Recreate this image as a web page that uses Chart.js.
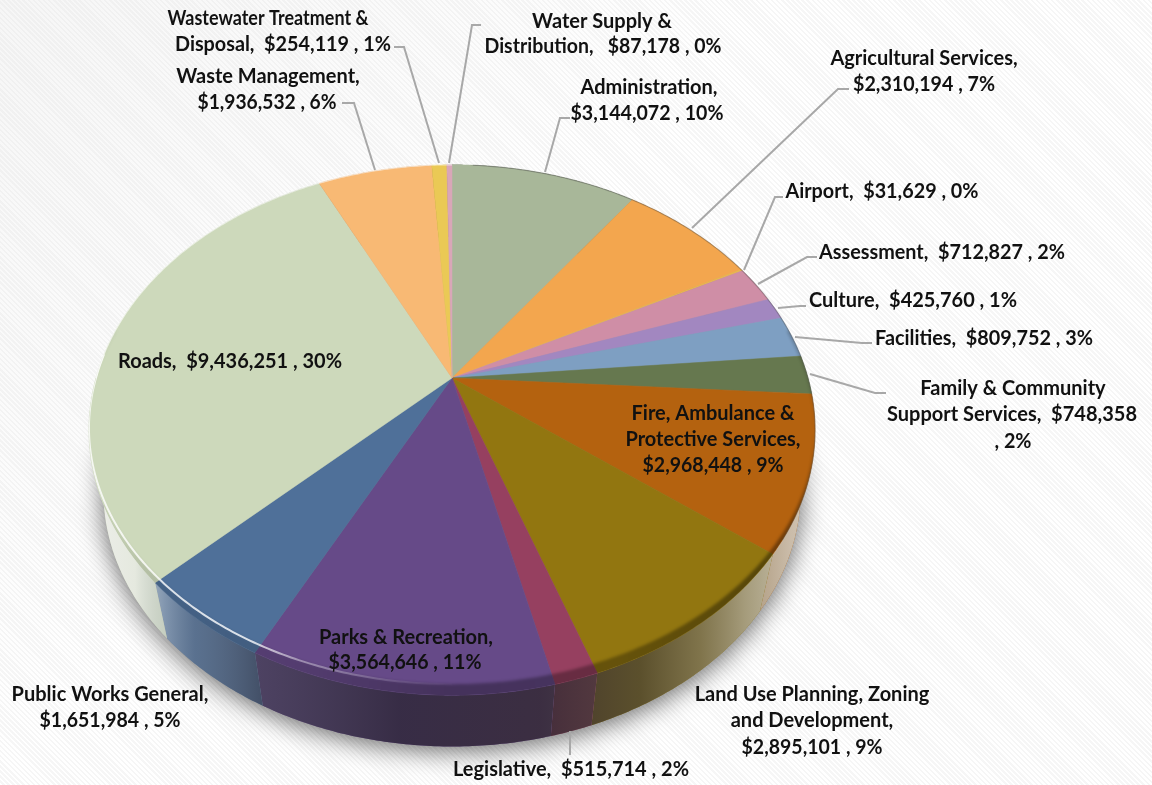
<!DOCTYPE html>
<html><head><meta charset="utf-8">
<script src="https://cdn.jsdelivr.net/npm/chart.js@4/dist/chart.umd.min.js"></script>
<style>
html,body{margin:0;padding:0;width:1152px;height:785px;overflow:hidden}
body{background:
 linear-gradient(135deg,rgba(225,225,225,.3) 0%,rgba(255,255,255,0) 40%),
 repeating-linear-gradient(45deg,#ffffff 0,#ffffff 1.8px,#f6f6f6 1.8px,#f6f6f6 3.6px)}
canvas{position:absolute;left:0;top:0}
</style></head><body>
<canvas id="c" width="1152" height="785"></canvas>
<script>
const categories=["Administration","Agricultural Services","Airport","Assessment","Culture","Facilities","Family & Community Support Services","Fire, Ambulance & Protective Services","Land Use Planning, Zoning and Development","Legislative","Parks & Recreation","Public Works General","Roads","Waste Management","Wastewater Treatment & Disposal","Water Supply & Distribution"];
const amounts=[3144072,2310194,31629,712827,425760,809752,748358,2968448,2895101,515714,3564646,1651984,9436251,1936532,254119,87178];
const sliceColors=["#a8b799","#f3a64e","#e9b84f","#cf8ea6","#a287c0","#7e9fc2","#66784f","#b4620f","#927610","#964060","#664a88","#4f7099","#cdd9bb","#f8b974","#eac955","#d9a6b8"];
// wrapped label text ({v}=amount, {p}=percent)
const labelText=[
 ["Administration,","{v} , {p}"],
 ["Agricultural Services,","{v} , {p}"],
 ["Airport,  {v} , {p}"],
 ["Assessment,  {v} , {p}"],
 ["Culture,  {v} , {p}"],
 ["Facilities,  {v} , {p}"],
 ["Family & Community","Support Services,  {v}",", {p}"],
 ["Fire, Ambulance &","Protective Services,","{v} , {p}"],
 ["Land Use Planning, Zoning","and Development,","{v} , {p}"],
 ["Legislative,  {v} , {p}"],
 ["Parks & Recreation,","{v} , {p}"],
 ["Public Works General,","{v} , {p}"],
 ["Roads,  {v} , {p}"],
 ["Waste Management,","{v} , {p}"],
 ["Wastewater Treatment &","Disposal,  {v} , {p}"],
 ["Water Supply &","Distribution,   {v} , {p}"]
];
const labelCenters=[[649,647],[924,924],[882],[942],[913],[984],[1013,1012,1013],[713,713,713],[812,812,812],[571],[406,405],[110,110],[230],[268,267],[268,283],[602,603]];
const labelRows=[[88,114],[59,85],[192],[253],[301],[339],[389,415,442],[414,440,466],[695,721,748],[770],[638,663],[695,721],[362],[77,103],[19,45],[22,47]];
const labelWidths=[[140,153],[189,142],[193],[246],[208],[218],[188,251,37],[165,175,141],[235,166,141],[236],[177,153],[199,141],[224],[188,139],[201,216],[141,237]];
const leaders=[
 [[545,172],[560,118],[570,118]],
 [[692,228],[838,89],[849,89]],
 [[744,270],[775,197],[783,197]],
 [[758,284],[807,257],[817,257]],
 [[778,308],[800,306],[806,306]],
 [[795,337],[862,343],[872,343]],
 [[810,374],[875,393],[886,393]],
 null,null,
 [[570,731],[570,755]],
 null,null,null,
 [[375,170],[354,103],[342,103]],
 [[439,163],[404,47],[394,47]],
 [[449,163],[472,25],[481,25]]
];
// perspective view of the pie disc
const VIEW={cx:452,cy:378,rx:356,ry:255,p:0.196,depthY:64,depthScale:0.96};
function proj(a,r){r=r===undefined?1:r;const u=r*Math.cos(a),v=r*Math.sin(a),w=1-VIEW.p*v;
 return [VIEW.cx+VIEW.rx*u/w,VIEW.cy+VIEW.ry*v/w];}
function low(a){const q=proj(a);return [VIEW.cx+(q[0]-VIEW.cx)*VIEW.depthScale,VIEW.cy+VIEW.depthY+(q[1]-VIEW.cy)*VIEW.depthScale];}
function arcPts(s,e,f){const n=Math.max(2,Math.ceil((e-s)/0.01)),o=[];for(let i=0;i<=n;i++)o.push(f(s+(e-s)*i/n));return o;}
function poly(ctx,pts,move){pts.forEach((q,i)=>{(i===0&&move)?ctx.moveTo(q[0],q[1]):ctx.lineTo(q[0],q[1]);});}
function hGrad(ctx,stops){const g=ctx.createLinearGradient(88,0,816,0);stops.forEach(s=>g.addColorStop((s[0]-88)/728,s[1]));return g;}

const pie3d={id:'pie3d',
 beforeDatasetsDraw(chart){
  const ctx=chart.ctx,arcs=chart.getDatasetMeta(0).data;
  const full=arcPts(-Math.PI/2,Math.PI*1.5,proj),fullLow=arcPts(-Math.PI/2,Math.PI*1.5,low);
  // soft cast shadow
  ctx.save();ctx.shadowColor='rgba(0,0,0,.6)';ctx.shadowBlur=26;ctx.shadowOffsetY=4;ctx.fillStyle='#999';
  ctx.beginPath();poly(ctx,fullLow,true);ctx.closePath();ctx.fill();ctx.restore();
  // walls
  const wallShade=hGrad(ctx,[[88,'rgba(240,240,238,.95)'],[135,'rgba(235,237,232,.8)'],[165,'rgba(190,195,200,.45)'],[195,'rgba(110,115,125,.35)'],[260,'rgba(60,60,72,.6)'],[400,'rgba(45,38,55,.82)'],[540,'rgba(50,40,50,.82)'],[640,'rgba(70,65,55,.72)'],[700,'rgba(120,115,100,.7)'],[745,'rgba(170,165,150,.8)'],[790,'rgba(205,200,190,.88)'],[816,'rgba(215,212,205,.9)']]);
  arcs.forEach((arc,i)=>{const s=arc.startAngle,e=arc.endAngle;
   ctx.beginPath();poly(ctx,arcPts(s,e,proj),true);poly(ctx,arcPts(s,e,low).reverse());ctx.closePath();
   ctx.fillStyle=sliceColors[i];ctx.fill();ctx.fillStyle=wallShade;ctx.fill();
  });
  // top faces
  arcs.forEach((arc,i)=>{const s=arc.startAngle,e=arc.endAngle;
   ctx.beginPath();ctx.moveTo(VIEW.cx,VIEW.cy);poly(ctx,arcPts(s,e,proj));ctx.closePath();
   ctx.fillStyle=sliceColors[i];ctx.fill();ctx.strokeStyle=sliceColors[i];ctx.lineWidth=.5;ctx.stroke();
  });
  // bevel band and highlight
  ctx.save();ctx.beginPath();poly(ctx,full,true);ctx.closePath();ctx.clip();
  const upper=a=>{const q=proj(a);return [q[0],q[1]-11*Math.max(0,Math.sin(a))];};
  ctx.filter='blur(1.5px)';
  ctx.beginPath();poly(ctx,arcPts(-0.2,Math.PI+0.2,a=>{const q=proj(a);return [q[0],q[1]+3];}),true);poly(ctx,arcPts(-0.2,Math.PI+0.2,upper).reverse());ctx.closePath();
  ctx.fillStyle=hGrad(ctx,[[88,'rgba(0,0,0,0)'],[150,'rgba(0,0,0,.12)'],[300,'rgba(0,0,0,.18)'],[450,'rgba(0,0,0,.32)'],[620,'rgba(0,0,0,.3)'],[760,'rgba(0,0,0,.4)'],[816,'rgba(0,0,0,.35)']]);ctx.fill();
  ctx.filter='none';
  ctx.beginPath();poly(ctx,arcPts(Math.PI/2,Math.PI*1.03,upper),true);
  ctx.strokeStyle=hGrad(ctx,[[88,'rgba(255,255,255,.8)'],[250,'rgba(255,255,255,.8)'],[300,'rgba(255,255,255,.4)'],[400,'rgba(255,255,255,.1)'],[460,'rgba(255,255,255,0)'],[816,'rgba(255,255,255,0)']]);ctx.lineWidth=2;ctx.stroke();
  ctx.restore();
  // thin rim
  ctx.beginPath();poly(ctx,arcPts(-1.5,0.6,proj),true);ctx.strokeStyle='rgba(70,70,70,.35)';ctx.lineWidth=1.2;ctx.stroke();
  ctx.beginPath();poly(ctx,arcPts(Math.PI,Math.PI*1.5,proj),true);ctx.strokeStyle='rgba(255,255,255,.6)';ctx.lineWidth=1.2;ctx.stroke();
  return false;
 },
 afterDraw(chart){
  const ctx=chart.ctx,total=amounts.reduce((a,b)=>a+b,0);
  ctx.save();
  leaders.forEach(l=>{if(!l)return;ctx.beginPath();poly(ctx,l,true);ctx.strokeStyle='#a8a8a8';ctx.lineWidth=2;ctx.stroke();});
  ctx.font='bold 20px Lato';ctx.fillStyle='#111';ctx.textAlign='center';ctx.textBaseline='middle';
  labelText.forEach((lines,i)=>{
   const v='$'+amounts[i].toLocaleString('en-US'),p=Math.round(amounts[i]/total*100)+'%';
   lines.forEach((t,j)=>ctx.fillText(t.replace('{v}',v).replace('{p}',p),labelCenters[i][j],labelRows[i][j],labelWidths[i][j]));
  });
  ctx.restore();
 }
};
new Chart(document.getElementById('c'),{
 type:'pie',
 data:{labels:categories,datasets:[{data:amounts,backgroundColor:sliceColors,borderWidth:0}]},
 options:{responsive:false,animation:false,plugins:{legend:{display:false},tooltip:{enabled:false}}},
 plugins:[pie3d]
});
</script>
</body></html>
